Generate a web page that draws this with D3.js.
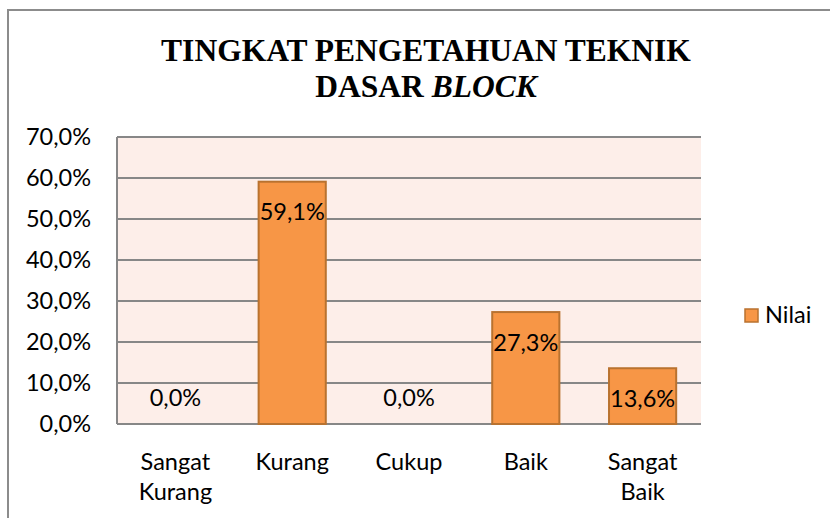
<!DOCTYPE html>
<html lang="id">
<head>
    <meta charset="UTF-8">
    <title>Tingkat Pengetahuan Teknik Dasar Block</title>
    <script src="https://d3js.org/d3.v7.min.js"></script>
    <style>
        body { margin: 0; background: #fff; }
        svg { display: block; }
        .tick-label, .data-label, .cat-label, .legend-label {
            font-family: Lato, "Open Sans", sans-serif;
            fill: #000;
        }
    </style>
</head>
<body>
    <div id="chart"></div>
    <script>
        // data
        const categories = [["Sangat", "Kurang"], ["Kurang"], ["Cukup"], ["Baik"], ["Sangat", "Baik"]];
        const values = [0.0, 0.591, 0.0, 0.273, 0.136];
        const yTicks = [0, 0.1, 0.2, 0.3, 0.4, 0.5, 0.6, 0.7];
        const seriesName = "Nilai";

        const width = 830, height = 518;
        const plot = { left: 117, right: 701, top: 137, bottom: 424 };
        const barColor = "#F79646", barStroke = "#B9722F", gridColor = "#878787";
        const fs = 23.5;

        const fmt = v => (v * 100).toFixed(1).replace(".", ",") + "%";

        const svg = d3.select("#chart").append("svg")
            .attr("width", width)
            .attr("height", height);

        // outer chart frame
        svg.append("rect")
            .attr("x", 8).attr("y", 10)
            .attr("width", 900).attr("height", 600)
            .attr("fill", "#fff")
            .attr("stroke", "#8C8C8C")
            .attr("stroke-width", 2);

        const x = d3.scaleBand()
            .domain(d3.range(categories.length))
            .range([plot.left, plot.right])
            .paddingInner(0.425)
            .paddingOuter(0.2125);

        const y = d3.scaleLinear()
            .domain([0, 0.7])
            .range([plot.bottom, plot.top]);

        // plot background
        svg.append("rect")
            .attr("x", plot.left).attr("y", plot.top)
            .attr("width", plot.right - plot.left)
            .attr("height", plot.bottom - plot.top)
            .attr("fill", "#FDEEE9");

        // gridlines
        svg.append("g").selectAll("line")
            .data(yTicks)
            .join("line")
            .attr("x1", plot.left).attr("x2", plot.right)
            .attr("y1", d => y(d)).attr("y2", d => y(d))
            .attr("stroke", gridColor)
            .attr("stroke-width", 2);

        svg.append("line")
            .attr("x1", plot.left).attr("x2", plot.left)
            .attr("y1", plot.top).attr("y2", plot.bottom)
            .attr("stroke", gridColor)
            .attr("stroke-width", 2);

        // y tick labels
        svg.append("g").selectAll("text")
            .data(yTicks)
            .join("text")
            .attr("class", "tick-label")
            .attr("x", 91)
            .attr("y", d => y(d))
            .attr("dy", "0.36em")
            .attr("text-anchor", "end")
            .attr("font-size", fs)
            .text(fmt);

        // bars
        svg.append("g").selectAll("rect")
            .data(values)
            .join("rect")
            .attr("x", (d, i) => x(i))
            .attr("y", d => y(d))
            .attr("width", x.bandwidth())
            .attr("height", d => y(0) - y(d))
            .attr("fill", barColor)
            .attr("stroke", d => d > 0 ? barStroke : "none")
            .attr("stroke-width", 2);

        // data labels
        svg.append("g").selectAll("text")
            .data(values)
            .join("text")
            .attr("class", "data-label")
            .attr("x", (d, i) => x(i) + x.bandwidth() / 2)
            .attr("y", d => d > 0 ? y(d) + 30 : y(0) - 26)
            .attr("dy", "0.36em")
            .attr("text-anchor", "middle")
            .attr("font-size", fs)
            .text(fmt);

        // category labels
        const cat = svg.append("g").selectAll("text")
            .data(categories)
            .join("text")
            .attr("class", "cat-label")
            .attr("text-anchor", "middle")
            .attr("font-size", fs);
        cat.selectAll("tspan")
            .data((d, i) => d.map(t => ({ t, i })))
            .join("tspan")
            .attr("x", d => x(d.i) + x.bandwidth() / 2)
            .attr("y", (d, j) => 462 + j * 30)
            .attr("dy", "0.36em")
            .text(d => d.t);

        // title
        const title = svg.append("text")
            .attr("x", 426)
            .attr("text-anchor", "middle")
            .attr("font-family", "'Liberation Serif', 'Times New Roman', serif")
            .attr("font-weight", "bold")
            .attr("font-size", 31.5);
        title.append("tspan").attr("x", 426).attr("y", 61).text("TINGKAT PENGETAHUAN TEKNIK");
        const l2 = title.append("tspan").attr("x", 426).attr("y", 97);
        l2.append("tspan").text("DASAR ");
        l2.append("tspan").attr("font-style", "italic").text("BLOCK");

        // legend
        svg.append("rect")
            .attr("x", 745).attr("y", 309)
            .attr("width", 13).attr("height", 13)
            .attr("fill", barColor)
            .attr("stroke", barStroke)
            .attr("stroke-width", 1.5);
        svg.append("text")
            .attr("class", "legend-label")
            .attr("x", 765).attr("y", 315)
            .attr("dy", "0.36em")
            .attr("font-size", fs)
            .text(seriesName);
    </script>
</body>
</html>
